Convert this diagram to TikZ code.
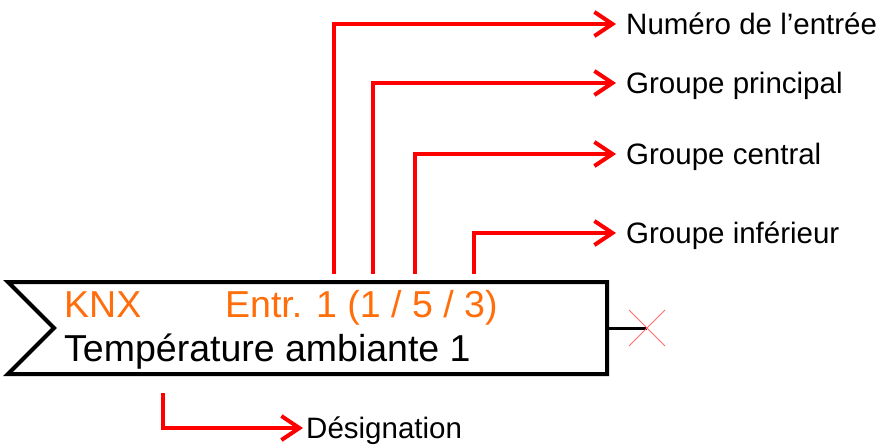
\documentclass[tikz,border=0pt]{standalone}
\usepackage{fontspec}
\setmainfont{Liberation Sans}
\usetikzlibrary{arrows.meta}
\definecolor{knxorange}{RGB}{255,110,10}
\definecolor{crossred}{RGB}{255,110,110}
\begin{document}
\begin{tikzpicture}[x=1pt,y=-1pt,
  lead/.style={red, line width=4pt, line join=miter,
    -{Straight Barb[length=18pt,width=24pt,line width=4pt]}},
  lbl/.style={anchor=west, inner sep=0pt, font=\fontsize{29.5}{32}\selectfont,
    text height=21pt, text depth=0pt},
  boxtext/.style={anchor=base west, inner sep=0pt, font=\fontsize{37.5}{42}\selectfont}]
  \useasboundingbox (0,0) rectangle (877,445);

  % input block with notched left side
  \draw[line width=4pt, line join=miter]
    (8,282) -- (607,282) -- (607,374) -- (8,374) -- (54,328) -- cycle;
  \node[boxtext, text=knxorange] (knx) at (64,317) {KNX};
  \node[boxtext, text=knxorange] (entr) at (225,317) {Entr. 1 (1 / 5 / 3)};
  \node[boxtext] (name) at (64,361) {Température ambiante 1};

  % output stub ending in an unconnected mark
  \coordinate (out) at (607,328);
  \coordinate (open) at (647,328);
  \draw[line width=3pt] (out) -- (open);
  \draw[crossred, line width=1pt] ([shift={(-18,-18)}]open) -- ([shift={(18,18)}]open)
    ([shift={(-18,18)}]open) -- ([shift={(18,-18)}]open);

  % explanation labels
  \node[lbl] (l1) at (626,24) {Numéro de l’entrée};
  \node[lbl] (l2) at (626,83) {Groupe principal};
  \node[lbl] (l3) at (626,154) {Groupe central};
  \node[lbl] (l4) at (626,233) {Groupe inférieur};
  \node[lbl] (l5) at (306,428) {Désignation};

  % start points on the block
  \coordinate (s1) at (334,274);
  \coordinate (s2) at (373,274);
  \coordinate (s3) at (415,274);
  \coordinate (s4) at (474,274);
  \coordinate (s5) at (163,393);

  \draw[lead] (s1) |- ([xshift=-10pt]l1.west);
  \draw[lead] (s2) |- ([xshift=-10pt]l2.west);
  \draw[lead] (s3) |- ([xshift=-10pt]l3.west);
  \draw[lead] (s4) |- ([xshift=-10pt]l4.west);
  \draw[lead] (s5) |- ([xshift=-3pt]l5.west);
\end{tikzpicture}
\end{document}
